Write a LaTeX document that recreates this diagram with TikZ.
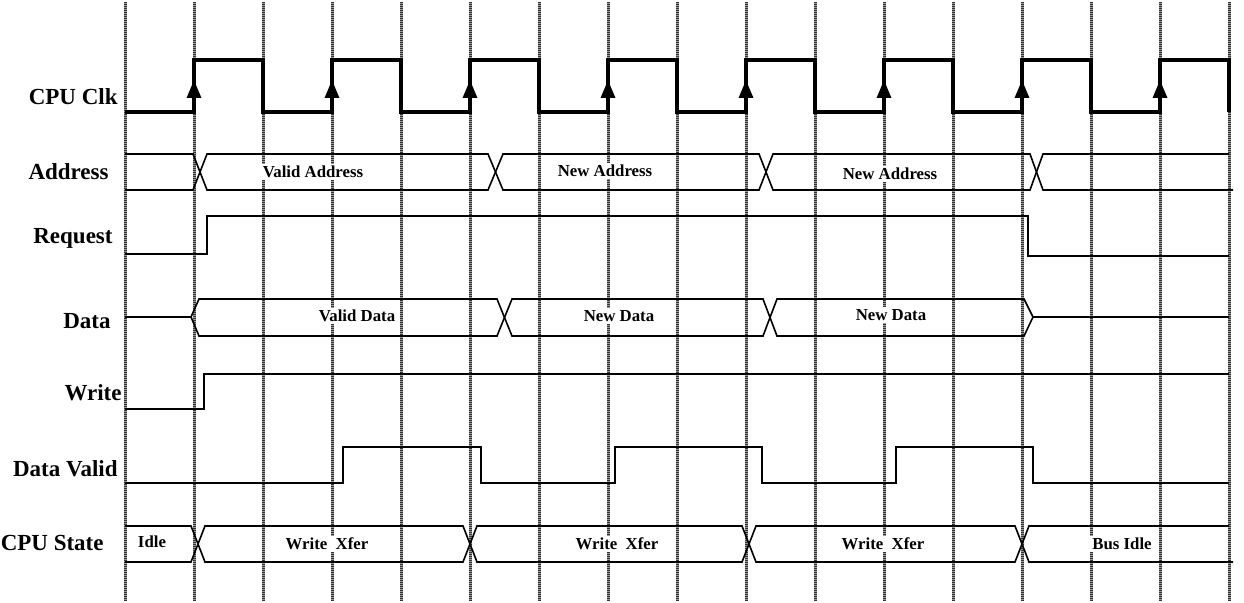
\documentclass[tikz,border=0pt]{standalone}
\usepackage{fontspec}
\setmainfont{Liberation Serif}
\usetikzlibrary{arrows.meta}

\tikzset{
  gridline/.style={draw=black!80, line width=1.5pt, dash pattern=on 0.5pt off 0.5pt,
    preaction={draw=black!40, line width=1.5pt, solid}},
  wave/.style={line width=0.8pt},
  clkwave/.style={line width=1.6pt},
  clkedge/.style={line width=1.6pt, -{Triangle[width=7pt,length=9pt]}},
  signame/.style={anchor=east, inner sep=0pt, font=\fontsize{11.5}{13}\selectfont\bfseries},
  buslabel/.style={fill=white, inner sep=1pt, font=\fontsize{8.4}{10}\selectfont\bfseries},
}

\begin{document}
\begin{tikzpicture}[x=0.5pt, y=-0.5pt]
\useasboundingbox (0,0) rectangle (1244,603);

% clock grid
\foreach \k in {0,...,16}
  \draw[gridline] ({125+69*\k},2) -- ({125+69*\k},601);

% signal names
\node[signame] (clkname) at (118,97) {CPU Clk};
\node[signame] (addrname) at (109,172) {Address};
\node[signame] (reqname) at (113,238) {Request};
\node[signame] (dataname) at (111,321) {Data};
\node[signame] (wrname) at (122,393) {Write};
\node[signame] (dvname) at (118,469) {Data Valid};
\node[signame] (statename) at (104,543) {CPU State};

% CPU Clk
\draw[clkwave] (125,112) \foreach \k in {1,3,...,15} {
  -- ({125+69*\k},112) -- ({125+69*\k},60) -- ({125+69*(\k+1)},60) -- ({125+69*(\k+1)},112) };
\foreach \k in {1,3,...,15}
  \draw[clkedge] ({125+69*\k},112) -- ({125+69*\k},80);

% Address
\draw[wave] (125,154) -- (193,154) -- (207,190) -- (488,190) -- (503,154) -- (759,154) -- (773,190) -- (1030,190) -- (1043,154) -- (1229,154);
\draw[wave] (125,190) -- (193,190) -- (207,154) -- (488,154) -- (503,190) -- (759,190) -- (773,154) -- (1030,154) -- (1043,190) -- (1233,190);
\node[buslabel] (addr1) at (313,172) {Valid Address};
\node[buslabel] (addr2) at (605,171) {New Address};
\node[buslabel] (addr3) at (890,174) {New Address};

% Request
\draw[wave] (125,254) -- (207,254) -- (207,216) -- (1028,216) -- (1028,256) -- (1229,256);

% Data
\draw[wave] (125,317) -- (191,317) -- (199,299) -- (497,299) -- (512,336) -- (763,336) -- (777,299) -- (1024,299) -- (1033,317) -- (1229,317);
\draw[wave] (191,317) -- (199,336) -- (497,336) -- (512,299) -- (763,299) -- (777,336) -- (1024,336) -- (1033,317);
\node[buslabel] (data1) at (357,316) {Valid Data};
\node[buslabel] (data2) at (619,316) {New Data};
\node[buslabel] (data3) at (891,315) {New Data};

% Write
\draw[wave] (125,409) -- (204,409) -- (204,374) -- (1229,374);

% Data Valid
\draw[wave] (125,483) -- (343,483) -- (343,447) -- (481,447) -- (481,483) -- (615,483) -- (615,447) -- (762,447) -- (762,483) -- (896,483) -- (896,447) -- (1033,447) -- (1033,483) -- (1229,483);

% CPU State
\draw[wave] (125,526) -- (191,526) -- (205,562) -- (463,562) -- (477,526) -- (742,526) -- (756,562) -- (1015,562) -- (1029,526) -- (1229,526);
\draw[wave] (125,562) -- (191,562) -- (205,526) -- (463,526) -- (477,562) -- (742,562) -- (756,526) -- (1015,526) -- (1029,562) -- (1233,562);
\node[buslabel] (st1) at (152,542) {Idle};
\node[buslabel] (st2) at (327,544) {Write~ Xfer};
\node[buslabel] (st3) at (617,544) {Write~ Xfer};
\node[buslabel] (st4) at (883,544) {Write~ Xfer};
\node[buslabel] (st5) at (1122,544) {Bus Idle};
\end{tikzpicture}
\end{document}
